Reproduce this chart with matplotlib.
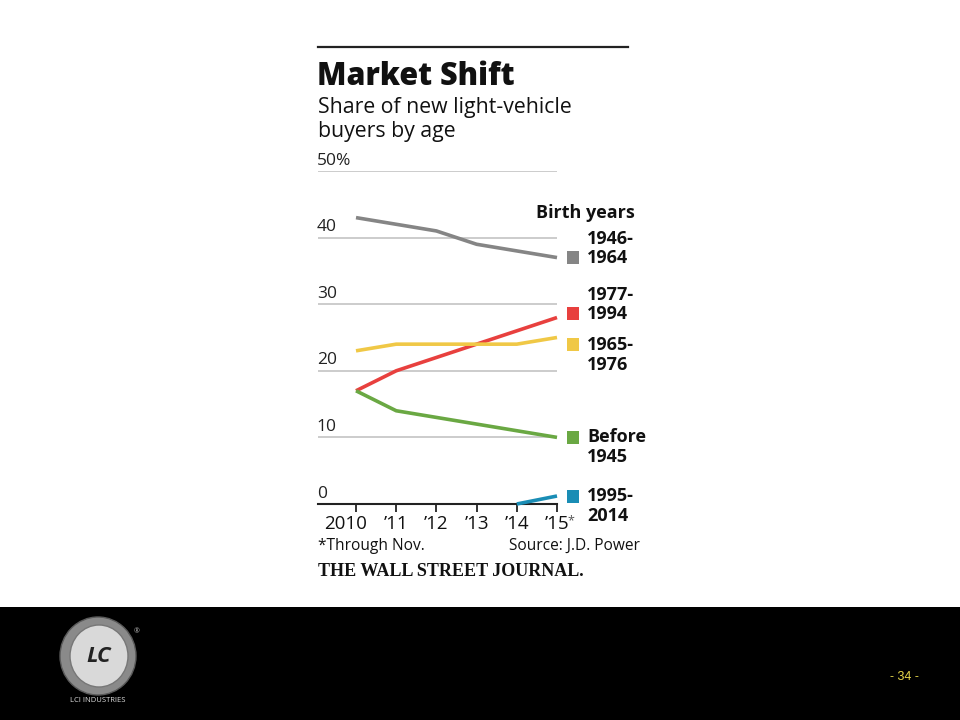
import matplotlib
matplotlib.use("Agg")
import matplotlib.pyplot as plt
import matplotlib.transforms as mtransforms
from matplotlib.patches import Rectangle, Ellipse
from matplotlib.lines import Line2D

years = [2010, 2011, 2012, 2013, 2014, 2015]
tick_labels = ["2010", "\u201911", "\u201912", "\u201913", "\u201914", "\u201915"]
gen_1946_1964 = [43, 42, 41, 39, 38, 37]
gen_1977_1994 = [17, 20, 22, 24, 26, 28]
gen_1965_1976 = [23, 24, 24, 24, 24, 25]
gen_before_1945 = [17, 14, 13, 12, 11, 10]
years_1995 = [2014, 2015]
gen_1995_2014 = [0, 1.2]
yticks = [0, 10, 20, 30, 40, 50]

# (label, x, y, colour, which text line sits beside the square, square nudge in px)
series = [
    ("1946-\n1964", years, gen_1946_1964, "#858585", 1, 0),
    ("1977-\n1994", years, gen_1977_1994, "#e8403e", 1, -4),
    ("1965-\n1976", years, gen_1965_1976, "#f0c846", 0, 7),
    ("Before\n1945", years, gen_before_1945, "#6aa843", 0, 0),
    ("1995-\n2014", years_1995, gen_1995_2014, "#1a8db5", 0, 0),
]

W, H = 960, 720
fig = plt.figure(figsize=(9.6, 7.2), dpi=100)
fig.patch.set_facecolor("white")

def P(x, y):
    return (x / W, 1 - y / H)

SANS = ["Open Sans", "DejaVu Sans"]

# axes
x_left_px, x_right_px = 318, 557
y_top_px, y_bot_px = 171, 504
ax = fig.add_axes([x_left_px / W, 1 - y_bot_px / H, (x_right_px - x_left_px) / W, (y_bot_px - y_top_px) / H])
px_per_year = (557 - 356) / 5
xmin = 2010 - (356 - 318) / px_per_year
ax.set_xlim(xmin, 2015)
ax.set_ylim(0, 50)
ax.patch.set_alpha(0)
for s in ax.spines.values():
    s.set_visible(False)
ax.set_yticks([])
for v in yticks[1:]:
    ax.axhline(v, color="#c4c4c4", lw=1.2, zorder=1)
ax.axhline(0, color="#222222", lw=1.5, zorder=3, clip_on=False)
for v in yticks:
    lab = "50%" if v == 50 else str(v)
    ax.text(xmin - 0.03, v + 1.55, lab, ha="left", va="center", fontsize=12.5, family=SANS, color="#222222")

ax.set_xticks(years)
ax.set_xticklabels(tick_labels, fontsize=13.5, family=SANS, color="#111111")
ax.tick_params(axis="x", length=6, width=1.3, color="#222222", pad=2)
first_lab = ax.get_xticklabels()[0]
first_lab.set_transform(first_lab.get_transform() + mtransforms.ScaledTranslation(-10 / 100, 0, fig.dpi_scale_trans))
ax.text(2015.27, -1.6, "*", ha="left", va="top", fontsize=9, family=SANS, color="#555555", clip_on=False)

for name, xs, ys, col, line, nudge in series:
    ax.plot(xs, ys, color=col, lw=2.6, solid_capstyle="butt", zorder=4, clip_on=False)

# legend markers + labels
for name, xs, ys, col, line, nudge in series:
    yv = ys[-1]
    ypix = y_bot_px - yv / 50 * (y_bot_px - y_top_px) + nudge
    fig.add_artist(Rectangle(P(567, ypix + 6.5), 12 / W, 13 / H, transform=fig.transFigure,
                             facecolor=col, edgecolor="none"))
    first, second = name.split("\n")
    if line == 1:
        y1, y2 = ypix - 19, ypix
    else:
        y1, y2 = ypix, ypix + 20
    fig.text(*P(587, y1), first, ha="left", va="center", fontsize=13, fontweight="bold", family=SANS, color="#111111")
    fig.text(*P(587, y2), second, ha="left", va="center", fontsize=13, fontweight="bold", family=SANS, color="#111111")

fig.text(*P(635, 213), "Birth years", ha="right", va="center", fontsize=13, fontweight="bold", family=SANS, color="#111111")

# header
fig.add_artist(Line2D([318 / W, 628 / W], [1 - 47 / H, 1 - 47 / H], transform=fig.transFigure, color="#222222", lw=1.6))
fig.text(*P(317, 77), "Market Shift", ha="left", va="center", fontsize=22, fontweight="heavy", family=SANS, color="#111111")
fig.text(*P(318, 108), "Share of new light-vehicle", ha="left", va="center", fontsize=15.3, family=SANS, color="#111111")
fig.text(*P(318, 132), "buyers by age", ha="left", va="center", fontsize=15.3, family=SANS, color="#111111")

# footer notes
fig.text(*P(318, 546), "*Through Nov.", ha="left", va="center", fontsize=11.2, family=SANS, color="#111111")
fig.text(*P(640, 546), "Source: J.D. Power", ha="right", va="center", fontsize=11.2, family=SANS, color="#111111")
fig.text(*P(318, 571), "THE WALL STREET JOURNAL.", ha="left", va="center", fontsize=13, fontweight="bold",
         family=["Liberation Serif", "DejaVu Serif"], color="#111111")

# black slide footer
fig.add_artist(Rectangle((0, 0), 1, 113 / H, transform=fig.transFigure, facecolor="black", edgecolor="none"))
fig.add_artist(Ellipse(P(98, 656), 76 / W, 78 / H, transform=fig.transFigure, facecolor="#8a8a8a", edgecolor="#5a5a5a", lw=1))
fig.add_artist(Ellipse(P(99, 656), 58 / W, 62 / H, transform=fig.transFigure, facecolor="#d9d9d9", edgecolor="#777777", lw=1))
fig.text(*P(99, 656), "LC", ha="center", va="center", fontsize=16, fontweight="bold", fontstyle="italic",
         family=SANS, color="#222222")
fig.text(*P(137, 632), "\u00ae", ha="center", va="center", fontsize=5, family=SANS, color="#bbbbbb")
fig.text(*P(98, 701), "LCI INDUSTRIES", ha="center", va="center", fontsize=5.5, family=SANS, color="#dddddd")
fig.text(*P(904, 677), "- 34 -", ha="center", va="center", fontsize=9, family=["Liberation Sans Narrow", "Liberation Sans", "DejaVu Sans"], color="#e8d84a")

fig.savefig("out.png", dpi=100, facecolor="white")
